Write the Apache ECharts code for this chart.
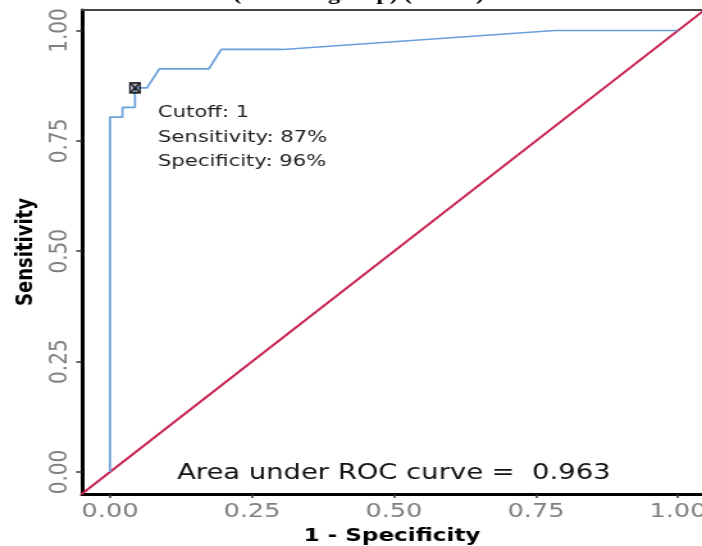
<!DOCTYPE html>
<html>
<head>
<meta charset="utf-8">
<script src="https://cdn.jsdelivr.net/npm/echarts@6/dist/echarts.min.js"></script>
<style>
html, body { margin: 0; padding: 0; background: #fff; width: 702px; height: 546px; overflow: hidden; }
#c { width: 548px; height: 546px; transform: scaleX(1.28102); transform-origin: 0 0; }
</style>
</head>
<body>
<div id="c"></div>
<script>
// ROC curve points
const fpr = [0, 0, 0.022, 0.022, 0.044, 0.044, 0.065, 0.087, 0.174, 0.196, 0.304, 0.783, 1.0];
const tpr = [0, 0.804, 0.804, 0.826, 0.826, 0.870, 0.870, 0.913, 0.913, 0.957, 0.957, 1.0, 1.0];
// reference diagonal (chance line)
const diagX = [-0.1, 1.1];
const diagY = [-0.1, 1.1];
// optimal cutoff point
const cutoffPoint = [0.044, 0.870];
const tickValues = [0, 0.25, 0.5, 0.75, 1];
const annotationLines = ['Cutoff: 1', 'Sensitivity: 87%', 'Specificity: 96%'];
const aucText = 'Area under ROC curve =  0.963';
const titleText = '(Control group) (n = 92)';

const rocData = fpr.map((x, i) => [x, tpr[i]]);
const diagData = diagX.map((x, i) => [x, diagY[i]]);

const chart = echarts.init(document.getElementById('c'));
const tickFont = { color: '#7f7f7f', fontSize: 20, fontFamily: 'DejaVu Sans' };

chart.setOption({
  animation: false,
  backgroundColor: '#fff',
  title: {
    text: titleText,
    left: 177,
    top: -19,
    textStyle: { fontFamily: 'Liberation Serif', fontWeight: 'bold', fontSize: 19, color: '#000' }
  },
  grid: { left: 64, right: 0, top: 10, bottom: 52, outerBoundsMode: 'none', containLabel: false },
  xAxis: [{
    type: 'value', min: -0.0493, max: 1.0423,
    name: '1 - Specificity', nameLocation: 'middle', nameGap: 29,
    nameTextStyle: { fontFamily: 'DejaVu Sans', fontWeight: 'bold', fontSize: 18, color: '#000' },
    axisLine: { show: true, onZero: false, lineStyle: { color: '#000', width: 3 } },
    axisTick: { show: true, customValues: tickValues, length: 4, lineStyle: { color: '#333', width: 1.5 } },
    axisLabel: { customValues: tickValues, margin: 8, formatter: v => v.toFixed(2), ...tickFont },
    splitLine: { show: false }
  }, {
    type: 'value', position: 'top', min: -0.0493, max: 1.0423,
    axisLine: { show: true, onZero: false, lineStyle: { color: '#444', width: 2 } },
    axisTick: { show: false }, axisLabel: { show: false }, splitLine: { show: false }
  }],
  yAxis: {
    type: 'value', min: -0.0498, max: 1.0464,
    name: 'Sensitivity', nameLocation: 'middle', nameGap: 33, nameRotate: 90,
    nameTextStyle: { fontFamily: 'DejaVu Sans', fontWeight: 'bold', fontSize: 18, color: '#000' },
    axisLine: { show: true, onZero: false, lineStyle: { color: '#000', width: 3 } },
    axisTick: { show: true, customValues: tickValues, length: 4.5, lineStyle: { color: '#333', width: 1.5 } },
    axisLabel: { customValues: tickValues, rotate: 90, margin: 7, formatter: v => v.toFixed(2), ...tickFont },
    splitLine: { show: false }
  },
  series: [{
    type: 'line', data: rocData, showSymbol: false, symbol: 'none',
    lineStyle: { color: '#6a9fdc', width: 1.7 }, z: 3
  }, {
    type: 'line', data: diagData, showSymbol: false, symbol: 'none', clip: true,
    lineStyle: { color: '#c8234f', width: 2 }, z: 2
  }, {
    type: 'scatter', data: [cutoffPoint],
    symbol: 'path://M0 0H10V10H0Z M0 0L10 10 M10 0L0 10',
    symbolSize: [8, 10],
    itemStyle: { color: 'rgba(70,80,110,0.55)', borderColor: '#000', borderWidth: 1.4 },
    z: 5
  }],
  graphic: [
    ...annotationLines.map((t, i) => ({
      type: 'text', x: 123.3, y: 113 + i * 24.3, z: 10,
      style: { text: t, fill: '#222', font: '16.5px "DejaVu Sans"', align: 'left', verticalAlign: 'middle' }
    })),
    {
      type: 'text', x: 138.2, y: 473, z: 10,
      style: { text: aucText, fill: '#111', font: '21.4px "DejaVu Sans"', align: 'left', verticalAlign: 'middle' }
    }
  ]
});
</script>
</body>
</html>
